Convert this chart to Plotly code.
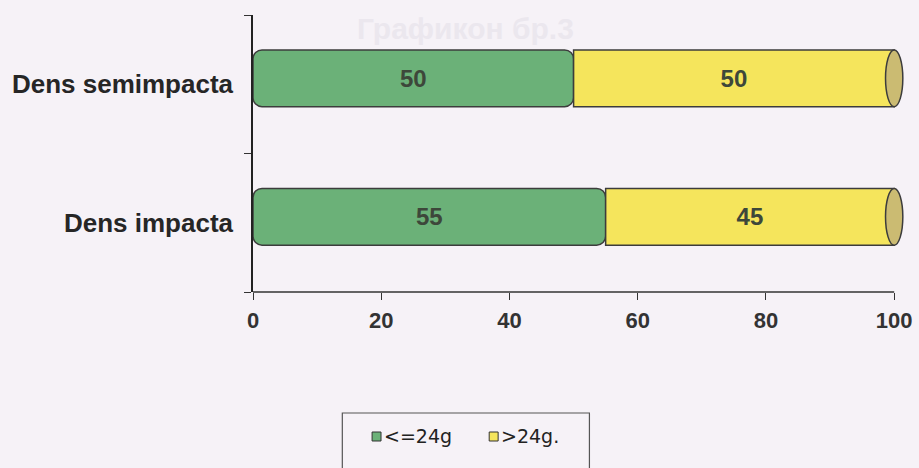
import plotly.graph_objects as go

# Data
categories = ["Dens impacta", "Dens semimpacta"]
series_names = ["<=24g", ">24g."]
le_24g = [55, 50]
gt_24g = [45, 50]
x_ticks = [0, 20, 40, 60, 80, 100]

GREEN = "#6bb178"
YELLOW = "#f5e55c"
CAP = "#cbbb72"
EDGE = "#3c3c3c"
BG = "#f6f2f7"
BAR_W = 0.41
BAR_OFF = -0.162          # bars sit slightly above the category centre (3-D look)

# plot-area geometry in pixels (used to place the hand-drawn legend)
L, T, W_FIG, H_FIG = 253, 15, 919, 468
X_MAX = 102
PLOT_W = 659
PLOT_H = 277


def px_x(px):
    return (px - L) / PLOT_W


def px_y(py):
    return (T + PLOT_H - py) / PLOT_H


fig = go.Figure()

# first segment: drawn from its end back to zero so the rounded corner sits at the left end
fig.add_trace(go.Bar(
    y=categories, x=[-v for v in le_24g], base=le_24g, name=series_names[0],
    orientation="h", width=BAR_W, offset=BAR_OFF,
    marker=dict(color=GREEN, line=dict(color=EDGE, width=1.5), cornerradius=9),
    text=[str(v) for v in le_24g], texttemplate="%{text}",
    textposition="inside", insidetextanchor="middle",
    textfont=dict(family="Arial", size=24, color="#3d473a", weight="bold"),
    showlegend=False,
))
# second segment stacked on the first
fig.add_trace(go.Bar(
    y=categories, x=gt_24g, base=le_24g, name=series_names[1],
    orientation="h", width=BAR_W, offset=BAR_OFF,
    marker=dict(color=YELLOW, line=dict(color=EDGE, width=1.5)),
    text=[str(v) for v in gt_24g], texttemplate="%{text}",
    textposition="inside", insidetextanchor="middle",
    textfont=dict(family="Arial", size=24, color="#3d473a", weight="bold"),
    showlegend=False,
))

shapes = []
# cylinder end caps
for i in range(len(categories)):
    total = le_24g[i] + gt_24g[i]
    shapes.append(dict(type="circle", xref="x", yref="y",
                       x0=total - 1.35, x1=total + 1.35,
                       y0=i + BAR_OFF, y1=i + BAR_OFF + BAR_W,
                       fillcolor=CAP, line=dict(color=EDGE, width=1.5), layer="above"))

# x axis line only up to the last tick
shapes.append(dict(type="line", xref="x", yref="paper", x0=0, x1=x_ticks[-1], y0=0, y1=0,
                   line=dict(color="#333333", width=1.5)))

# legend frame and swatches
shapes.append(dict(type="rect", xref="paper", yref="paper",
                   x0=px_x(343), x1=px_x(592), y0=px_y(413), y1=px_y(480),
                   line=dict(color="#555555", width=1.2), fillcolor="rgba(0,0,0,0)"))
annotations = []
legend_items = [(series_names[0], GREEN, 373), (series_names[1], YELLOW, 491)]
for name, col, sx in legend_items:
    shapes.append(dict(type="rect", xref="paper", yref="paper",
                       x0=px_x(sx), x1=px_x(sx + 9), y0=px_y(432), y1=px_y(441),
                       fillcolor=col, line=dict(color="#333333", width=1)))
    annotations.append(dict(text=name, xref="paper", yref="paper",
                            x=px_x(sx + 10), y=px_y(436), xanchor="left", yanchor="middle",
                            showarrow=False,
                            font=dict(family="DejaVu Sans", size=19, color="#222222")))

# faint heading
annotations.append(dict(text="Графикон бр.3", xref="paper", yref="paper",
                        x=px_x(467), y=px_y(28), xanchor="center", yanchor="middle",
                        showarrow=False,
                        font=dict(family="Arial", size=30, color="#ebe7ee", weight="bold")))

fig.update_layout(
    width=W_FIG, height=H_FIG,
    margin=dict(l=L, r=W_FIG - L - PLOT_W, t=T, b=H_FIG - T - PLOT_H),
    paper_bgcolor=BG, plot_bgcolor=BG,
    barmode="overlay",
    showlegend=False,
    shapes=shapes,
    annotations=annotations,
    xaxis=dict(range=[0, X_MAX], tickvals=x_ticks, showgrid=False, zeroline=False,
               showline=False, ticks="outside", ticklen=7, tickcolor="#333333",
               tickfont=dict(family="Arial", size=22, color="#333333", weight="bold"),
               ticklabelstandoff=2),
    yaxis=dict(range=[-0.5, 1.5], showgrid=False, zeroline=False,
               showline=True, linecolor="#222222", linewidth=1.5,
               ticks="outside", ticklen=7, tickson="boundaries", tickcolor="#333333",
               tickfont=dict(family="Arial", size=26, color="#262626", weight="bold"),
               ticklabelstandoff=13),
)

fig.write_html("out.html")
